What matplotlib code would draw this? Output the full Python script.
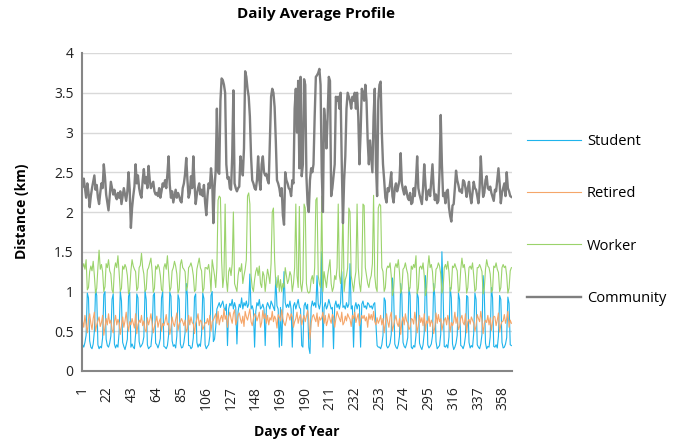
import numpy as np
import matplotlib
matplotlib.use("Agg")
import matplotlib.pyplot as plt

plt.rcParams['font.family'] = ['Open Sans', 'DejaVu Sans']

series_names = ["Student", "Retired", "Worker", "Community"]
x_ticks = [1, 22, 43, 64, 85, 106, 127, 148, 169, 190, 211, 232, 253, 274, 295, 316, 337, 358]
y_ticks = [0, 0.5, 1, 1.5, 2, 2.5, 3, 3.5, 4]

student = [
    0.33, 0.30, 0.36, 0.45, 0.98, 0.92, 0.38,
    0.30, 0.28, 0.34, 0.50, 1.02, 0.95, 0.33,
    0.28, 0.31, 0.29, 0.42, 0.96, 1.00, 0.40,
    0.32, 0.30, 0.35, 0.44, 0.90, 0.97, 0.34,
    0.29, 0.33, 0.30, 0.48, 1.00, 0.88, 0.36,
    0.31, 0.27, 0.33, 0.40, 0.94, 0.99, 0.30,
    0.34, 0.30, 0.28, 0.46, 0.97, 0.92, 0.37,
    0.30, 0.32, 0.35, 0.43, 1.01, 0.90, 0.33,
    0.28, 0.30, 0.31, 0.47, 0.95, 0.98, 0.35,
    0.33, 0.29, 0.34, 0.41, 0.92, 1.00, 0.31,
    0.30, 0.28, 0.32, 0.45, 0.99, 0.94, 0.38,
    0.31, 0.33, 0.29, 0.44, 0.96, 0.90, 0.34,
    0.29, 0.30, 0.36, 0.48, 1.10, 0.95, 0.32,
    0.32, 0.28, 0.30, 0.42, 0.93, 0.97, 0.36,
    0.30, 0.34, 0.31, 0.46, 0.98, 0.91, 0.33,
    0.28, 0.31, 0.33, 0.44, 0.95, 1.00, 0.37,
    0.40, 0.55, 0.78, 0.82, 0.86, 0.80, 0.84,
    0.88, 0.80, 0.76, 0.84, 0.32, 0.78, 0.85,
    0.82, 0.90, 0.78, 0.86, 0.80, 0.34, 0.75,
    0.84, 0.80, 0.92, 0.78, 0.86, 0.82, 0.88,
    0.80, 0.84, 1.22, 0.78, 0.82, 0.76, 0.30,
    0.75, 0.86, 0.82, 0.90, 0.78, 0.80, 0.84,
    0.78, 0.32, 0.80, 0.86, 0.82, 0.78, 0.88,
    0.84, 0.80, 0.76, 1.18, 0.82, 0.78, 0.30,
    0.80, 0.32, 0.78, 1.25, 0.86, 0.80, 0.84,
    0.80, 0.88, 0.78, 0.30, 0.82, 0.86, 0.78,
    0.84, 0.90, 0.80, 0.78, 0.32, 0.30, 0.82,
    0.86, 0.78, 0.84, 0.30, 0.22, 0.80, 0.88,
    0.82, 0.86, 0.80, 1.20, 0.84, 0.78, 0.86,
    1.50, 0.30, 0.80, 0.86, 0.78, 0.82, 0.90,
    0.84, 0.78, 0.80, 0.28, 0.82, 0.88, 0.80,
    0.84, 0.78, 0.86, 1.25, 0.80, 0.82, 0.78,
    0.86, 0.80, 0.84, 1.35, 0.78, 0.82, 0.30,
    0.80, 0.86, 0.78, 0.84, 0.82, 0.30, 0.84,
    0.88, 0.80, 0.82, 0.78, 0.86, 0.84, 0.80,
    0.82, 0.78, 0.84, 0.86, 0.60, 0.32, 0.30,
    0.30, 0.28, 0.33, 0.45, 0.92, 0.88, 0.32,
    0.29, 0.31, 0.35, 0.46, 1.17, 1.00, 0.34,
    0.30, 0.28, 0.33, 0.44, 1.10, 0.96, 0.36,
    0.31, 0.29, 0.34, 0.42, 1.05, 0.95, 0.30,
    0.28, 0.32, 0.30, 0.45, 0.98, 0.92, 0.35,
    0.30, 0.27, 0.33, 0.48, 1.20, 1.00, 0.33,
    0.29, 0.31, 0.34, 0.44, 1.10, 0.94, 0.37,
    0.28, 0.30, 0.32, 0.46, 1.50, 0.98, 0.31,
    0.30, 0.33, 0.29, 0.43, 1.05, 0.92, 0.34,
    0.27, 0.30, 0.35, 0.45, 0.98, 0.90, 0.32,
    0.31, 0.28, 0.33, 0.44, 0.95, 0.93, 0.36,
    0.29, 0.32, 0.30, 0.47, 0.98, 0.90, 0.33,
    0.30, 0.28, 0.34, 0.46, 1.20, 0.96, 0.35,
    0.28, 0.31, 0.30, 0.43, 1.05, 0.92, 0.31,
    0.30, 0.33, 0.29, 0.44, 0.95, 0.90, 0.36,
    0.29, 0.30, 0.34, 0.42, 0.93, 0.85, 0.33,
    0.32,
]

retired = [
    0.62, 0.55, 0.70, 0.58, 0.48, 0.65, 0.72,
    0.60, 0.52, 0.66, 0.74, 0.50, 0.58, 0.63,
    0.68, 0.56, 0.61, 0.70, 0.45, 0.55, 0.66,
    0.58, 0.72, 0.60, 0.64, 0.52, 0.48, 0.62,
    0.70, 0.58, 0.65, 0.60, 0.46, 0.57, 0.68,
    0.55, 0.63, 0.74, 0.59, 0.50, 0.62, 0.58,
    0.66, 0.60, 0.54, 0.72, 0.47, 0.58, 0.64,
    0.61, 0.70, 0.57, 0.63, 0.52, 0.49, 0.67,
    0.58, 0.64, 0.72, 0.60, 0.48, 0.56, 0.62,
    0.69, 0.55, 0.62, 0.66, 0.50, 0.60, 0.57,
    0.63, 0.71, 0.58, 0.60, 0.46, 0.54, 0.68,
    0.60, 0.56, 0.65, 0.73, 0.51, 0.59, 0.62,
    0.66, 0.62, 0.57, 0.64, 0.49, 0.53, 0.70,
    0.58, 0.68, 0.61, 0.59, 0.47, 0.60, 0.65,
    0.72, 0.57, 0.64, 0.62, 0.52, 0.56, 0.61,
    0.60, 0.66, 0.58, 0.70, 0.50, 0.62, 0.64,
    0.68, 0.72, 0.60, 0.75, 0.58, 0.66, 0.70,
    0.62, 0.78, 0.65, 0.70, 0.55, 0.68, 0.74,
    0.66, 0.60, 0.72, 0.77, 0.58, 0.64, 0.70,
    0.73, 0.65, 0.60, 0.69, 0.56, 0.75, 0.68,
    0.64, 0.71, 0.78, 0.62, 0.57, 0.66, 0.72,
    0.70, 0.63, 0.68, 0.74, 0.55, 0.61, 0.76,
    0.66, 0.72, 0.60, 0.70, 0.58, 0.67, 0.64,
    0.75, 0.62, 0.69, 0.65, 0.54, 0.71, 0.68,
    0.63, 0.77, 0.66, 0.60, 0.57, 0.64, 0.73,
    0.70, 0.64, 0.72, 0.68, 0.55, 0.62, 0.66,
    0.74, 0.60, 0.67, 0.71, 0.58, 0.65, 0.70,
    0.62, 0.69, 0.76, 0.64, 0.40, 0.60, 0.68,
    0.71, 0.66, 0.62, 0.73, 0.56, 0.68, 0.64,
    0.67, 0.74, 0.60, 0.70, 0.57, 0.63, 0.72,
    0.65, 0.60, 0.71, 0.68, 0.55, 0.66, 0.75,
    0.70, 0.66, 0.62, 0.74, 0.58, 0.61, 0.69,
    0.63, 0.72, 0.68, 0.65, 0.56, 0.70, 0.66,
    0.74, 0.61, 0.67, 0.72, 0.57, 0.64, 0.70,
    0.66, 0.70, 0.63, 0.68, 0.55, 0.72, 0.65,
    0.71, 0.64, 0.75, 0.62, 0.58, 0.67, 0.60,
    0.64, 0.70, 0.58, 0.66, 0.48, 0.60, 0.72,
    0.62, 0.55, 0.68, 0.74, 0.50, 0.57, 0.64,
    0.70, 0.60, 0.56, 0.66, 0.46, 0.62, 0.68,
    0.58, 0.72, 0.63, 0.60, 0.52, 0.55, 0.66,
    0.65, 0.59, 0.74, 0.62, 0.48, 0.58, 0.70,
    0.61, 0.67, 0.57, 0.72, 0.50, 0.63, 0.60,
    0.69, 0.56, 0.64, 0.60, 0.47, 0.55, 0.73,
    0.60, 0.71, 0.62, 0.66, 0.51, 0.59, 0.64,
    0.67, 0.58, 0.70, 0.63, 0.49, 0.61, 0.57,
    0.62, 0.74, 0.60, 0.68, 0.52, 0.56, 0.66,
    0.70, 0.61, 0.58, 0.72, 0.48, 0.62, 0.65,
    0.59, 0.68, 0.64, 0.60, 0.50, 0.57, 0.71,
    0.66, 0.62, 0.75, 0.63, 0.47, 0.60, 0.64,
    0.61, 0.70, 0.58, 0.67, 0.51, 0.62, 0.69,
    0.68, 0.57, 0.64, 0.73, 0.49, 0.58, 0.62,
    0.63, 0.71, 0.60, 0.66, 0.75, 0.55, 0.64,
    0.60,
]

worker = [
    1.30, 1.35, 1.28, 1.40, 1.02, 1.05, 1.25,
    1.32, 1.26, 1.38, 1.20, 0.98, 1.04, 1.30,
    1.52, 1.28, 1.34, 1.25, 1.00, 1.06, 1.35,
    1.30, 1.40, 1.26, 1.22, 1.02, 0.98, 1.28,
    1.36, 1.30, 1.45, 1.24, 1.00, 1.04, 1.32,
    1.28, 1.34, 1.30, 1.20, 0.97, 1.02, 1.26,
    1.40, 1.32, 1.28, 1.25, 1.01, 1.05, 1.30,
    1.33, 1.48, 1.30, 1.22, 1.00, 1.03, 1.27,
    1.30, 1.36, 1.42, 1.26, 0.99, 1.04, 1.32,
    1.28, 1.34, 1.30, 1.20, 1.02, 1.00, 1.30,
    1.35, 1.28, 1.45, 1.24, 1.00, 1.05, 1.26,
    1.30, 1.38, 1.32, 1.22, 0.98, 1.03, 1.34,
    1.40, 1.30, 1.28, 1.25, 1.01, 1.06, 1.30,
    1.32, 1.36, 1.30, 1.20, 1.00, 1.02, 1.28,
    1.35, 1.42, 1.30, 1.26, 0.99, 1.04, 1.30,
    1.30, 1.28, 1.34, 1.22, 1.00, 1.40, 1.30,
    1.20, 1.05, 1.30, 2.15, 2.20, 2.18, 1.40,
    1.05, 1.20, 2.10, 1.15, 1.00, 1.25, 1.30,
    1.20, 1.35, 2.00, 1.10, 1.05, 1.00, 1.20,
    1.30, 1.25, 1.35, 1.10, 1.20, 1.28, 1.40,
    2.20, 2.24, 2.10, 1.20, 1.05, 1.00, 1.15,
    1.25, 1.30, 1.20, 1.32, 1.10, 1.05, 1.25,
    1.20, 1.00, 1.15, 1.28, 1.20, 1.10, 1.35,
    2.00, 2.05, 1.40, 1.10, 1.05, 1.20, 1.00,
    1.15, 1.00, 1.10, 1.05, 1.30, 1.20, 1.10,
    1.15, 1.25, 1.20, 1.00, 1.10, 1.30, 2.10,
    1.20, 1.05, 2.07, 1.10, 1.00, 1.15, 2.10,
    2.05, 1.10, 1.00, 0.98, 1.00, 1.15, 1.20,
    1.10, 1.30, 2.15, 2.18, 1.20, 1.10, 1.05,
    2.20, 1.00, 1.25, 1.15, 1.05, 1.20, 1.30,
    1.40, 1.10, 1.00, 1.05, 1.20, 1.15, 1.30,
    2.10, 1.20, 1.10, 1.30, 2.05, 1.00, 1.15,
    1.20, 1.30, 2.05, 2.00, 1.20, 1.10, 1.00,
    1.15, 1.25, 2.10, 1.30, 1.10, 1.00, 1.20,
    2.10, 2.08, 1.30, 1.20, 1.10, 1.05, 1.15,
    1.20, 1.35, 2.21, 1.20, 1.05, 1.00, 2.05,
    2.10, 2.08, 1.30, 1.25, 1.00, 1.05, 1.28,
    1.32, 1.30, 1.36, 1.20, 0.95, 1.02, 1.30,
    1.35, 1.30, 1.40, 1.24, 0.98, 1.03, 1.28,
    1.30, 1.36, 1.28, 1.22, 1.00, 1.05, 1.32,
    1.28, 1.34, 1.30, 1.45, 0.97, 1.04, 1.30,
    1.32, 1.28, 1.36, 1.20, 0.95, 1.02, 1.30,
    1.45, 1.30, 1.34, 1.25, 1.00, 1.05, 1.28,
    1.30, 1.36, 1.32, 1.22, 0.98, 1.03, 1.30,
    1.34, 1.28, 1.38, 1.24, 1.00, 1.04, 1.32,
    1.30, 1.35, 1.30, 1.26, 0.99, 1.02, 1.28,
    1.42, 1.30, 1.34, 1.22, 0.98, 1.05, 1.30,
    1.32, 1.28, 1.36, 1.20, 1.00, 1.03, 1.30,
    1.30, 1.34, 1.30, 1.25, 0.97, 1.04, 1.28,
    1.40, 1.32, 1.30, 1.22, 0.99, 1.02, 1.32,
    1.30, 1.36, 1.28, 1.24, 1.00, 1.05, 1.30,
    1.34, 1.30, 1.32, 1.20, 0.98, 1.04, 1.26,
    1.30,
]

community = [
    2.32, 2.42, 2.30, 2.18, 2.36, 2.25, 2.06,
    2.20, 2.30, 2.38, 2.46, 2.28, 2.34, 2.18,
    2.10, 2.24, 2.36, 2.30, 2.60, 2.44, 2.22,
    2.12, 2.02, 2.20, 2.38, 2.30, 2.22, 2.28,
    2.20, 2.16, 2.24, 2.18, 2.26, 2.10, 2.20,
    2.30, 2.22, 2.14, 2.26, 2.50, 2.28, 1.80,
    2.05, 2.20, 2.32, 2.60, 2.36, 2.46, 2.30,
    2.22, 2.18, 2.40, 2.54, 2.36, 2.44, 2.30,
    2.58, 2.40, 2.30, 2.34, 2.38, 2.26, 2.22,
    2.24, 2.20, 2.30, 2.18, 2.26, 2.36, 2.32,
    2.40, 2.30, 2.48, 2.70, 2.34, 2.18, 2.26,
    2.12, 2.20, 2.28, 2.18, 2.24, 2.20, 2.14,
    2.12, 2.30, 2.36, 2.48, 2.68, 2.40, 2.18,
    2.24, 2.45, 2.30, 2.70, 2.36, 2.10, 2.22,
    2.30, 2.36, 2.22, 2.28, 2.20, 2.34, 2.12,
    1.96, 2.20, 2.36, 2.30, 2.55, 2.40, 1.86,
    2.30, 2.53, 3.30, 2.50, 2.48, 3.40, 3.68,
    3.66, 3.60, 3.50, 2.60, 2.42, 2.44, 2.30,
    2.28, 2.70, 3.53, 2.36, 2.30, 2.26, 2.30,
    2.32, 2.70, 2.60, 2.46, 2.80, 3.77, 3.70,
    3.55, 3.45, 3.20, 2.70, 2.40, 2.36, 2.30,
    2.28, 2.40, 2.70, 2.40, 2.28, 2.60, 2.70,
    2.50, 2.46, 2.48, 2.40, 2.36, 2.90, 3.45,
    3.55, 3.50, 3.32, 2.90, 2.40, 2.36, 2.30,
    2.20, 2.30, 1.96, 1.84, 2.50, 2.40, 2.36,
    2.30, 2.28, 2.20, 2.40, 2.36, 3.30, 3.55,
    3.00, 3.65, 2.55, 3.70, 2.45, 2.60, 3.67,
    3.60, 2.45, 2.10, 2.00, 2.40, 2.55, 2.50,
    2.60, 3.20, 3.70, 3.72, 3.75, 3.80, 3.60,
    2.50, 2.00, 3.30, 3.10, 2.80, 3.20, 3.70,
    3.65, 2.20, 2.30, 2.45, 2.60, 3.45, 3.40,
    3.45, 3.30, 3.50, 2.60, 1.86, 2.40, 2.70,
    3.30, 3.50, 3.45, 3.40, 3.30, 3.45, 3.40,
    3.50, 3.30, 3.50, 3.20, 2.60, 3.00, 3.55,
    3.50, 3.40, 3.60, 3.40, 2.90, 2.60, 2.90,
    2.70, 2.50, 3.20, 3.55, 2.60, 2.20, 3.40,
    3.60, 3.64, 3.00, 2.60, 2.40, 2.18, 2.12,
    2.30, 2.26, 2.36, 2.50, 2.20, 2.12, 2.30,
    2.36, 2.26, 2.32, 2.40, 2.74, 2.36, 2.28,
    2.22, 2.32, 2.26, 2.18, 2.15, 2.24, 2.10,
    2.12, 2.30, 2.20, 2.40, 2.70, 2.30, 2.22,
    2.16, 2.10, 2.30, 2.60, 2.36, 2.15, 2.24,
    2.28, 2.20, 2.40, 2.60, 2.30, 2.15, 2.22,
    2.11, 2.14, 2.50, 3.22, 2.60, 2.20, 2.24,
    2.11, 2.26, 2.28, 2.06, 1.95, 1.88, 2.08,
    2.10, 2.30, 2.52, 2.40, 2.34, 2.26, 2.28,
    2.24, 2.40, 2.38, 2.30, 2.19, 2.30, 2.38,
    2.20, 2.11, 2.24, 2.38, 2.30, 2.28, 2.20,
    2.11, 2.30, 2.70, 2.40, 2.19, 2.24, 2.40,
    2.45, 2.30, 2.28, 2.32, 2.24, 2.19, 2.14,
    2.28, 2.26, 2.40, 2.55, 2.36, 2.11, 2.24,
    2.30, 2.36, 2.20, 2.50, 2.30, 2.26, 2.20,
    2.19,
]

for name, arr in zip(series_names, [student, retired, worker, community]):
    assert len(arr) == 365, (name, len(arr))

days = np.arange(1, 366)
colors = {"Student": "#1FB4EC", "Retired": "#F5A66A", "Worker": "#9BD36B", "Community": "#7F7F7F"}
widths = {"Student": 0.8, "Retired": 0.8, "Worker": 0.8, "Community": 1.7}

fig = plt.figure(figsize=(7.0, 4.46), dpi=100)
ax = fig.add_axes([82 / 700, 1 - 371 / 446, 430 / 700, 318 / 446])

for name, arr in zip(series_names, [student, retired, worker, community]):
    ax.plot(days, arr, color=colors[name], lw=widths[name], label=name, solid_joinstyle='round')

ax.set_xlim(0.5, 365.5)
ax.set_ylim(0, 4)
ax.set_yticks(y_ticks)
ax.set_yticklabels([f"{v:g}" for v in y_ticks], fontsize=10)
ax.set_xticks(x_ticks)
ax.set_xticklabels([str(v) for v in x_ticks], rotation=90, fontsize=10)
ax.tick_params(axis='y', length=0, pad=6, colors='#222222')
ax.tick_params(axis='x', length=0, pad=11, colors='#222222')
ax.grid(axis='y', color='#D9D9D9', lw=1.0)
ax.set_axisbelow(True)
for s in ['top', 'right']:
    ax.spines[s].set_visible(False)
for s in ['left', 'bottom']:
    ax.spines[s].set_color('#868686')
    ax.spines[s].set_linewidth(1.5)

fig.text(316 / 700, 1 - 14 / 446, "Daily Average Profile", ha='center', va='center',
         fontsize=11, fontweight='bold')
fig.text(22 / 700, 1 - 211 / 446, "Distance (km)", ha='center', va='center', rotation=90,
         fontsize=10, fontweight='bold')
fig.text(297 / 700, 1 - 432 / 446, "Days of Year", ha='center', va='center',
         fontsize=10, fontweight='bold')

leg = fig.legend(loc='center left', bbox_to_anchor=(514 / 700, 1 - 220 / 446), frameon=False,
                 fontsize=10.5, handlelength=3.7, handletextpad=0.4, labelspacing=2.55)

fig.savefig("out.png", dpi=100)
